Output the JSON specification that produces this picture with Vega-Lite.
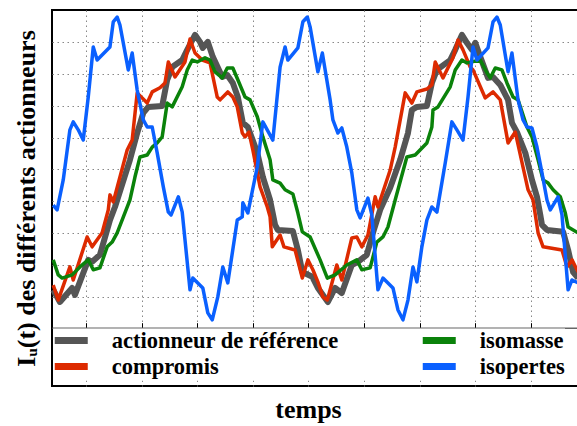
{
 "$schema": "https://vega.github.io/schema/vega-lite/v6.json",
 "autosize": "none",
 "padding": {"left": 52, "top": 10, "right": 0, "bottom": 40},
 "width": 526,
 "height": 376,
 "config": {"view": {"stroke": "#000", "strokeWidth": 2}, "font": "Liberation Serif"},
 "data": {"values": [
{"temps":0.41,"I":1.22,"serie":"actionneur de référence"},{"temps":0.53,"I":0.84,"serie":"actionneur de référence"},{"temps":0.75,"I":1.28,"serie":"actionneur de référence"},{"temps":0.80,"I":1.06,"serie":"actionneur de référence"},{"temps":1.04,"I":2.16,"serie":"actionneur de référence"},{"temps":1.11,"I":2.10,"serie":"actionneur de référence"},{"temps":1.25,"I":2.32,"serie":"actionneur de référence"},{"temps":1.43,"I":3.41,"serie":"actionneur de référence"},{"temps":1.52,"I":3.82,"serie":"actionneur de référence"},{"temps":1.79,"I":5.30,"serie":"actionneur de référence"},{"temps":1.92,"I":6.14,"serie":"actionneur de référence"},{"temps":2.03,"I":6.77,"serie":"actionneur de référence"},{"temps":2.12,"I":6.96,"serie":"actionneur de référence"},{"temps":2.37,"I":6.99,"serie":"actionneur de référence"},{"temps":2.46,"I":7.81,"serie":"actionneur de référence"},{"temps":2.55,"I":8.21,"serie":"actionneur de référence"},{"temps":2.73,"I":8.43,"serie":"actionneur de référence"},{"temps":2.82,"I":8.75,"serie":"actionneur de référence"},{"temps":2.96,"I":9.22,"serie":"actionneur de référence"},{"temps":3.05,"I":9.00,"serie":"actionneur de référence"},{"temps":3.10,"I":8.81,"serie":"actionneur de référence"},{"temps":3.19,"I":9.00,"serie":"actionneur de référence"},{"temps":3.28,"I":8.53,"serie":"actionneur de référence"},{"temps":3.45,"I":7.90,"serie":"actionneur de référence"},{"temps":3.54,"I":7.96,"serie":"actionneur de référence"},{"temps":3.64,"I":7.71,"serie":"actionneur de référence"},{"temps":3.73,"I":7.27,"serie":"actionneur de référence"},{"temps":3.82,"I":6.46,"serie":"actionneur de référence"},{"temps":3.91,"I":6.33,"serie":"actionneur de référence"},{"temps":4.08,"I":5.52,"serie":"actionneur de référence"},{"temps":4.18,"I":4.76,"serie":"actionneur de référence"},{"temps":4.31,"I":4.04,"serie":"actionneur de référence"},{"temps":4.40,"I":3.26,"serie":"actionneur de référence"},{"temps":4.45,"I":3.10,"serie":"actionneur de référence"},{"temps":4.72,"I":3.07,"serie":"actionneur de référence"},{"temps":4.81,"I":2.47,"serie":"actionneur de référence"},{"temps":4.89,"I":1.78,"serie":"actionneur de référence"},{"temps":5.07,"I":1.63,"serie":"actionneur de référence"},{"temps":5.17,"I":1.28,"serie":"actionneur de référence"},{"temps":5.35,"I":0.84,"serie":"actionneur de référence"},{"temps":5.48,"I":1.28,"serie":"actionneur de référence"},{"temps":5.60,"I":1.12,"serie":"actionneur de référence"},{"temps":5.78,"I":2.00,"serie":"actionneur de référence"},{"temps":5.89,"I":2.10,"serie":"actionneur de référence"},{"temps":6.05,"I":2.32,"serie":"actionneur de référence"},{"temps":6.16,"I":3.01,"serie":"actionneur de référence"},{"temps":6.29,"I":3.73,"serie":"actionneur de référence"},{"temps":6.47,"I":4.42,"serie":"actionneur de référence"},{"temps":6.65,"I":5.30,"serie":"actionneur de référence"},{"temps":6.79,"I":6.14,"serie":"actionneur de référence"},{"temps":6.86,"I":6.86,"serie":"actionneur de référence"},{"temps":6.95,"I":6.96,"serie":"actionneur de référence"},{"temps":7.13,"I":6.99,"serie":"actionneur de référence"},{"temps":7.22,"I":7.71,"serie":"actionneur de référence"},{"temps":7.31,"I":8.12,"serie":"actionneur de référence"},{"temps":7.55,"I":8.43,"serie":"actionneur de référence"},{"temps":7.64,"I":8.75,"serie":"actionneur de référence"},{"temps":7.76,"I":9.22,"serie":"actionneur de référence"},{"temps":7.85,"I":8.97,"serie":"actionneur de référence"},{"temps":7.94,"I":8.75,"serie":"actionneur de référence"},{"temps":8.00,"I":8.97,"serie":"actionneur de référence"},{"temps":8.09,"I":8.53,"serie":"actionneur de référence"},{"temps":8.23,"I":7.87,"serie":"actionneur de référence"},{"temps":8.32,"I":7.90,"serie":"actionneur de référence"},{"temps":8.45,"I":7.65,"serie":"actionneur de référence"},{"temps":8.59,"I":7.18,"serie":"actionneur de référence"},{"temps":8.66,"I":6.46,"serie":"actionneur de référence"},{"temps":8.75,"I":6.17,"serie":"actionneur de référence"},{"temps":8.90,"I":5.52,"serie":"actionneur de référence"},{"temps":9.02,"I":4.67,"serie":"actionneur de référence"},{"temps":9.11,"I":4.14,"serie":"actionneur de référence"},{"temps":9.17,"I":3.57,"serie":"actionneur de référence"},{"temps":9.20,"I":3.26,"serie":"actionneur de référence"},{"temps":9.29,"I":3.10,"serie":"actionneur de référence"},{"temps":9.58,"I":3.04,"serie":"actionneur de référence"},{"temps":9.67,"I":2.47,"serie":"actionneur de référence"},{"temps":9.76,"I":1.78,"serie":"actionneur de référence"},{"temps":9.85,"I":1.59,"serie":"actionneur de référence"},

{"temps":0.41,"I":1.37,"serie":"compromis"},{"temps":0.50,"I":0.90,"serie":"compromis"},{"temps":0.71,"I":1.94,"serie":"compromis"},{"temps":0.77,"I":1.53,"serie":"compromis"},{"temps":1.02,"I":2.88,"serie":"compromis"},{"temps":1.11,"I":2.57,"serie":"compromis"},{"temps":1.29,"I":3.01,"serie":"compromis"},{"temps":1.40,"I":3.73,"serie":"compromis"},{"temps":1.43,"I":4.20,"serie":"compromis"},{"temps":1.49,"I":3.98,"serie":"compromis"},{"temps":1.74,"I":5.61,"serie":"compromis"},{"temps":1.83,"I":5.92,"serie":"compromis"},{"temps":1.92,"I":7.40,"serie":"compromis"},{"temps":2.10,"I":7.08,"serie":"compromis"},{"temps":2.19,"I":7.43,"serie":"compromis"},{"temps":2.33,"I":7.56,"serie":"compromis"},{"temps":2.42,"I":7.71,"serie":"compromis"},{"temps":2.48,"I":8.37,"serie":"compromis"},{"temps":2.60,"I":7.90,"serie":"compromis"},{"temps":2.78,"I":8.37,"serie":"compromis"},{"temps":2.87,"I":9.09,"serie":"compromis"},{"temps":2.96,"I":8.65,"serie":"compromis"},{"temps":3.09,"I":8.43,"serie":"compromis"},{"temps":3.23,"I":8.34,"serie":"compromis"},{"temps":3.36,"I":7.27,"serie":"compromis"},{"temps":3.41,"I":7.18,"serie":"compromis"},{"temps":3.55,"I":7.43,"serie":"compromis"},{"temps":3.64,"I":7.27,"serie":"compromis"},{"temps":3.72,"I":6.96,"serie":"compromis"},{"temps":3.81,"I":6.14,"serie":"compromis"},{"temps":3.86,"I":6.02,"serie":"compromis"},{"temps":3.93,"I":6.17,"serie":"compromis"},{"temps":4.00,"I":5.61,"serie":"compromis"},{"temps":4.13,"I":4.45,"serie":"compromis"},{"temps":4.26,"I":3.82,"serie":"compromis"},{"temps":4.31,"I":3.51,"serie":"compromis"},{"temps":4.35,"I":2.57,"serie":"compromis"},{"temps":4.49,"I":2.94,"serie":"compromis"},{"temps":4.56,"I":2.57,"serie":"compromis"},{"temps":4.76,"I":2.47,"serie":"compromis"},{"temps":4.89,"I":1.59,"serie":"compromis"},{"temps":4.99,"I":2.16,"serie":"compromis"},{"temps":5.08,"I":1.85,"serie":"compromis"},{"temps":5.17,"I":1.47,"serie":"compromis"},{"temps":5.26,"I":1.00,"serie":"compromis"},{"temps":5.34,"I":0.90,"serie":"compromis"},{"temps":5.51,"I":2.00,"serie":"compromis"},{"temps":5.60,"I":1.53,"serie":"compromis"},{"temps":5.78,"I":2.85,"serie":"compromis"},{"temps":5.87,"I":2.88,"serie":"compromis"},{"temps":5.96,"I":2.57,"serie":"compromis"},{"temps":6.07,"I":2.94,"serie":"compromis"},{"temps":6.20,"I":4.14,"serie":"compromis"},{"temps":6.25,"I":3.82,"serie":"compromis"},{"temps":6.47,"I":4.98,"serie":"compromis"},{"temps":6.56,"I":5.70,"serie":"compromis"},{"temps":6.74,"I":7.40,"serie":"compromis"},{"temps":6.86,"I":7.08,"serie":"compromis"},{"temps":6.95,"I":7.43,"serie":"compromis"},{"temps":7.13,"I":7.52,"serie":"compromis"},{"temps":7.22,"I":7.65,"serie":"compromis"},{"temps":7.28,"I":8.37,"serie":"compromis"},{"temps":7.42,"I":7.87,"serie":"compromis"},{"temps":7.60,"I":8.50,"serie":"compromis"},{"temps":7.69,"I":9.06,"serie":"compromis"},{"temps":7.78,"I":8.75,"serie":"compromis"},{"temps":7.91,"I":8.21,"serie":"compromis"},{"temps":7.96,"I":8.12,"serie":"compromis"},{"temps":8.18,"I":7.24,"serie":"compromis"},{"temps":8.32,"I":7.43,"serie":"compromis"},{"temps":8.45,"I":7.18,"serie":"compromis"},{"temps":8.59,"I":5.83,"serie":"compromis"},{"temps":8.72,"I":6.17,"serie":"compromis"},{"temps":8.95,"I":4.36,"serie":"compromis"},{"temps":9.04,"I":4.04,"serie":"compromis"},{"temps":9.13,"I":3.01,"serie":"compromis"},{"temps":9.22,"I":2.57,"serie":"compromis"},{"temps":9.56,"I":2.47,"serie":"compromis"},{"temps":9.65,"I":1.94,"serie":"compromis"},{"temps":9.74,"I":2.16,"serie":"compromis"},{"temps":9.85,"I":1.78,"serie":"compromis"},

{"temps":0.41,"I":2.16,"serie":"isomasse"},{"temps":0.50,"I":1.69,"serie":"isomasse"},{"temps":0.57,"I":1.59,"serie":"isomasse"},{"temps":0.75,"I":1.69,"serie":"isomasse"},{"temps":0.89,"I":1.94,"serie":"isomasse"},{"temps":1.04,"I":2.16,"serie":"isomasse"},{"temps":1.13,"I":1.85,"serie":"isomasse"},{"temps":1.25,"I":1.91,"serie":"isomasse"},{"temps":1.38,"I":2.57,"serie":"isomasse"},{"temps":1.47,"I":2.72,"serie":"isomasse"},{"temps":1.56,"I":3.01,"serie":"isomasse"},{"temps":1.79,"I":4.04,"serie":"isomasse"},{"temps":1.88,"I":4.76,"serie":"isomasse"},{"temps":1.97,"I":5.39,"serie":"isomasse"},{"temps":2.10,"I":5.45,"serie":"isomasse"},{"temps":2.19,"I":5.70,"serie":"isomasse"},{"temps":2.28,"I":5.83,"serie":"isomasse"},{"temps":2.37,"I":6.02,"serie":"isomasse"},{"temps":2.46,"I":7.08,"serie":"isomasse"},{"temps":2.55,"I":6.96,"serie":"isomasse"},{"temps":2.73,"I":7.59,"serie":"isomasse"},{"temps":2.82,"I":8.12,"serie":"isomasse"},{"temps":2.91,"I":8.43,"serie":"isomasse"},{"temps":3.00,"I":8.37,"serie":"isomasse"},{"temps":3.14,"I":8.50,"serie":"isomasse"},{"temps":3.23,"I":8.43,"serie":"isomasse"},{"temps":3.32,"I":8.06,"serie":"isomasse"},{"temps":3.45,"I":7.87,"serie":"isomasse"},{"temps":3.54,"I":8.18,"serie":"isomasse"},{"temps":3.64,"I":8.18,"serie":"isomasse"},{"temps":3.73,"I":7.81,"serie":"isomasse"},{"temps":3.86,"I":7.27,"serie":"isomasse"},{"temps":3.95,"I":7.18,"serie":"isomasse"},{"temps":4.08,"I":6.65,"serie":"isomasse"},{"temps":4.18,"I":6.02,"serie":"isomasse"},{"temps":4.31,"I":5.30,"serie":"isomasse"},{"temps":4.36,"I":4.67,"serie":"isomasse"},{"temps":4.49,"I":4.57,"serie":"isomasse"},{"temps":4.58,"I":4.36,"serie":"isomasse"},{"temps":4.72,"I":4.23,"serie":"isomasse"},{"temps":4.81,"I":3.63,"serie":"isomasse"},{"temps":4.89,"I":3.04,"serie":"isomasse"},{"temps":5.03,"I":2.88,"serie":"isomasse"},{"temps":5.21,"I":2.16,"serie":"isomasse"},{"temps":5.34,"I":1.59,"serie":"isomasse"},{"temps":5.48,"I":1.69,"serie":"isomasse"},{"temps":5.69,"I":2.00,"serie":"isomasse"},{"temps":5.87,"I":2.16,"serie":"isomasse"},{"temps":5.96,"I":1.85,"serie":"isomasse"},{"temps":6.11,"I":1.91,"serie":"isomasse"},{"temps":6.23,"I":2.72,"serie":"isomasse"},{"temps":6.34,"I":2.88,"serie":"isomasse"},{"temps":6.43,"I":3.19,"serie":"isomasse"},{"temps":6.56,"I":4.04,"serie":"isomasse"},{"temps":6.77,"I":5.39,"serie":"isomasse"},{"temps":6.92,"I":5.45,"serie":"isomasse"},{"temps":7.13,"I":5.83,"serie":"isomasse"},{"temps":7.22,"I":6.33,"serie":"isomasse"},{"temps":7.24,"I":6.86,"serie":"isomasse"},{"temps":7.33,"I":6.96,"serie":"isomasse"},{"temps":7.55,"I":7.59,"serie":"isomasse"},{"temps":7.64,"I":8.12,"serie":"isomasse"},{"temps":7.76,"I":8.43,"serie":"isomasse"},{"temps":7.85,"I":8.34,"serie":"isomasse"},{"temps":8.09,"I":8.43,"serie":"isomasse"},{"temps":8.21,"I":8.03,"serie":"isomasse"},{"temps":8.27,"I":7.87,"serie":"isomasse"},{"temps":8.36,"I":8.18,"serie":"isomasse"},{"temps":8.48,"I":8.12,"serie":"isomasse"},{"temps":8.57,"I":7.71,"serie":"isomasse"},{"temps":8.68,"I":7.27,"serie":"isomasse"},{"temps":8.77,"I":7.18,"serie":"isomasse"},{"temps":8.93,"I":6.33,"serie":"isomasse"},{"temps":9.02,"I":6.02,"serie":"isomasse"},{"temps":9.13,"I":5.30,"serie":"isomasse"},{"temps":9.22,"I":4.67,"serie":"isomasse"},{"temps":9.31,"I":4.57,"serie":"isomasse"},{"temps":9.40,"I":4.36,"serie":"isomasse"},{"temps":9.53,"I":4.14,"serie":"isomasse"},{"temps":9.62,"I":3.63,"serie":"isomasse"},{"temps":9.67,"I":3.19,"serie":"isomasse"},{"temps":9.85,"I":3.01,"serie":"isomasse"},

{"temps":0.41,"I":3.88,"serie":"isopertes"},{"temps":0.48,"I":3.73,"serie":"isopertes"},{"temps":0.59,"I":4.67,"serie":"isopertes"},{"temps":0.71,"I":6.24,"serie":"isopertes"},{"temps":0.77,"I":6.49,"serie":"isopertes"},{"temps":0.86,"I":6.24,"serie":"isopertes"},{"temps":0.95,"I":5.92,"serie":"isopertes"},{"temps":1.04,"I":7.27,"serie":"isopertes"},{"temps":1.13,"I":8.84,"serie":"isopertes"},{"temps":1.20,"I":8.43,"serie":"isopertes"},{"temps":1.43,"I":8.84,"serie":"isopertes"},{"temps":1.49,"I":9.63,"serie":"isopertes"},{"temps":1.56,"I":9.78,"serie":"isopertes"},{"temps":1.61,"I":9.53,"serie":"isopertes"},{"temps":1.76,"I":8.12,"serie":"isopertes"},{"temps":1.83,"I":8.65,"serie":"isopertes"},{"temps":1.92,"I":7.49,"serie":"isopertes"},{"temps":2.03,"I":6.55,"serie":"isopertes"},{"temps":2.10,"I":6.33,"serie":"isopertes"},{"temps":2.19,"I":6.33,"serie":"isopertes"},{"temps":2.28,"I":5.52,"serie":"isopertes"},{"temps":2.39,"I":4.45,"serie":"isopertes"},{"temps":2.48,"I":3.66,"serie":"isopertes"},{"temps":2.53,"I":3.57,"serie":"isopertes"},{"temps":2.66,"I":4.14,"serie":"isopertes"},{"temps":2.73,"I":3.66,"serie":"isopertes"},{"temps":2.87,"I":1.22,"serie":"isopertes"},{"temps":2.92,"I":1.59,"serie":"isopertes"},{"temps":3.10,"I":1.28,"serie":"isopertes"},{"temps":3.19,"I":0.50,"serie":"isopertes"},{"temps":3.27,"I":0.28,"serie":"isopertes"},{"temps":3.37,"I":1.00,"serie":"isopertes"},{"temps":3.46,"I":1.94,"serie":"isopertes"},{"temps":3.55,"I":1.44,"serie":"isopertes"},{"temps":3.72,"I":3.41,"serie":"isopertes"},{"temps":3.81,"I":3.51,"serie":"isopertes"},{"temps":3.82,"I":3.95,"serie":"isopertes"},{"temps":3.91,"I":3.63,"serie":"isopertes"},{"temps":4.08,"I":5.08,"serie":"isopertes"},{"temps":4.18,"I":6.49,"serie":"isopertes"},{"temps":4.36,"I":5.92,"serie":"isopertes"},{"temps":4.49,"I":8.21,"serie":"isopertes"},{"temps":4.58,"I":8.84,"serie":"isopertes"},{"temps":4.63,"I":8.43,"serie":"isopertes"},{"temps":4.81,"I":8.81,"serie":"isopertes"},{"temps":4.90,"I":9.63,"serie":"isopertes"},{"temps":4.98,"I":9.78,"serie":"isopertes"},{"temps":5.03,"I":9.47,"serie":"isopertes"},{"temps":5.17,"I":8.06,"serie":"isopertes"},{"temps":5.25,"I":8.65,"serie":"isopertes"},{"temps":5.39,"I":7.18,"serie":"isopertes"},{"temps":5.44,"I":6.55,"serie":"isopertes"},{"temps":5.53,"I":6.14,"serie":"isopertes"},{"temps":5.60,"I":6.30,"serie":"isopertes"},{"temps":5.69,"I":5.70,"serie":"isopertes"},{"temps":5.78,"I":4.89,"serie":"isopertes"},{"temps":5.87,"I":3.73,"serie":"isopertes"},{"temps":5.93,"I":3.48,"serie":"isopertes"},{"temps":6.07,"I":4.10,"serie":"isopertes"},{"temps":6.14,"I":3.57,"serie":"isopertes"},{"temps":6.25,"I":1.22,"serie":"isopertes"},{"temps":6.34,"I":1.59,"serie":"isopertes"},{"temps":6.52,"I":1.28,"serie":"isopertes"},{"temps":6.61,"I":0.59,"serie":"isopertes"},{"temps":6.70,"I":0.28,"serie":"isopertes"},{"temps":6.79,"I":0.90,"serie":"isopertes"},{"temps":6.88,"I":1.94,"serie":"isopertes"},{"temps":6.95,"I":1.47,"serie":"isopertes"},{"temps":7.04,"I":2.57,"serie":"isopertes"},{"temps":7.13,"I":3.41,"serie":"isopertes"},{"temps":7.22,"I":3.82,"serie":"isopertes"},{"temps":7.31,"I":3.66,"serie":"isopertes"},{"temps":7.46,"I":5.20,"serie":"isopertes"},{"temps":7.58,"I":6.49,"serie":"isopertes"},{"temps":7.67,"I":6.24,"serie":"isopertes"},{"temps":7.78,"I":5.92,"serie":"isopertes"},{"temps":7.87,"I":7.27,"serie":"isopertes"},{"temps":7.96,"I":8.84,"serie":"isopertes"},{"temps":8.03,"I":8.43,"serie":"isopertes"},{"temps":8.23,"I":8.81,"serie":"isopertes"},{"temps":8.32,"I":9.63,"serie":"isopertes"},{"temps":8.39,"I":9.78,"serie":"isopertes"},{"temps":8.45,"I":9.53,"serie":"isopertes"},{"temps":8.59,"I":8.06,"serie":"isopertes"},{"temps":8.66,"I":8.65,"serie":"isopertes"},{"temps":8.77,"I":7.18,"serie":"isopertes"},{"temps":8.86,"I":6.55,"serie":"isopertes"},{"temps":8.93,"I":6.33,"serie":"isopertes"},{"temps":9.02,"I":6.30,"serie":"isopertes"},{"temps":9.11,"I":5.70,"serie":"isopertes"},{"temps":9.20,"I":4.89,"serie":"isopertes"},{"temps":9.29,"I":4.04,"serie":"isopertes"},{"temps":9.35,"I":3.73,"serie":"isopertes"},{"temps":9.49,"I":4.14,"serie":"isopertes"},{"temps":9.56,"I":3.57,"serie":"isopertes"},{"temps":9.67,"I":1.22,"serie":"isopertes"},{"temps":9.74,"I":1.53,"serie":"isopertes"},{"temps":9.85,"I":1.44,"serie":"isopertes"}
 ]},
 "encoding": {
  "x": {"field": "temps", "type": "quantitative",
   "scale": {"domain": [0.388, 9.848], "nice": false, "zero": false},
   "axis": {"orient": "bottom", "offset": -58.3, "labels": false, "values": [1,2,3,4,5,6,7,8,9],
    "ticks": true, "tickSize": -5, "tickColor": "#000", "tickWidth": 1,
    "domainColor": "#666", "domainWidth": 1.5,
    "grid": true, "gridColor": "#888", "gridDash": [1.5, 3.5], "gridWidth": 1,
    "title": "temps", "titleFont": "Liberation Serif", "titleFontSize": 26, "titleFontWeight": "bold", "titleColor": "#000",
    "titleX": 256, "titleY": 90, "titleAlign": "center", "titleBaseline": "alphabetic"}},
  "y": {"field": "I", "type": "quantitative",
   "scale": {"domain": [-1.796, 10], "nice": false, "zero": false},
   "axis": {"labels": false, "ticks": false, "domain": false, "values": [1,2,3,4,5,6,7,8,9],
    "grid": true, "gridColor": "#888", "gridDash": [1.5, 3.5], "gridWidth": 1,
    "title": "Iᵤ(t) des différents actionneurs", "titleFont": "Liberation Serif", "titleFontSize": 26, "titleFontWeight": "bold", "titleColor": "#000",
    "titleX": -18, "titleY": 188, "titleAngle": -90, "titleAlign": "center", "titleBaseline": "alphabetic"}},
  "color": {"field": "serie", "type": "nominal",
   "scale": {"domain": ["actionneur de référence", "isomasse", "compromis", "isopertes"], "range": ["#555555", "#0a820a", "#dd2a00", "#0a60ff"]},
   "legend": {"orient": "none", "legendX": 1, "legendY": 318.5, "direction": "horizontal", "columns": 2, "title": null,
    "symbolType": "M-2,0H2", "symbolStrokeWidth": 7, "symbolSize": 272.25, "symbolOffset": 6.25,
    "labelFont": "Liberation Serif", "labelFontSize": 22.5, "labelFontWeight": "bold", "labelColor": "#000", "labelLimit": 400,
    "labelOffset": 28.5, "columnPadding": 69, "rowPadding": -3.5, "padding": 0,
    "fillColor": "#fff", "strokeColor": null}}
 },
 "layer": [
  {"transform": [{"filter": "datum.serie === 'actionneur de référence'"}],
   "mark": {"type": "line", "strokeWidth": 6, "strokeJoin": "round"}},
  {"transform": [{"filter": "datum.serie !== 'actionneur de référence'"}],
   "mark": {"type": "line", "strokeWidth": 3.5, "strokeJoin": "round"}}
 ]
}
